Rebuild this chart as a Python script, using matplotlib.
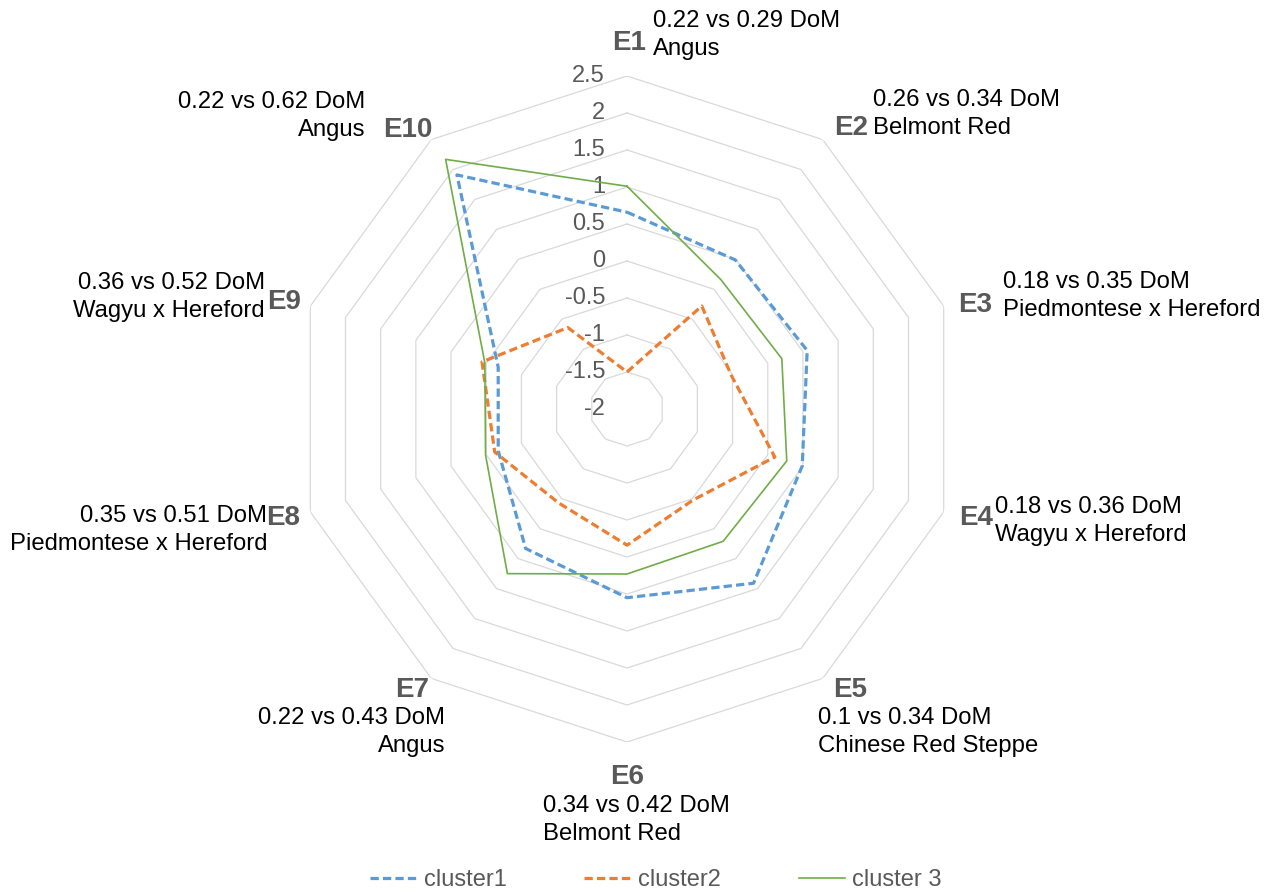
import numpy as np
import matplotlib
matplotlib.use("Agg")
import matplotlib.pyplot as plt
from matplotlib.transforms import offset_copy

plt.rcParams['font.family'] = ['Liberation Sans', 'DejaVu Sans']

# ---- data ----
categories = ["E1", "E2", "E3", "E4", "E5", "E6", "E7", "E8", "E9", "E10"]
dom_text = ["0.22 vs 0.29 DoM", "0.26 vs 0.34 DoM", "0.18 vs 0.35 DoM",
            "0.18 vs 0.36 DoM", "0.1 vs 0.34 DoM", "0.34 vs 0.42 DoM",
            "0.22 vs 0.43 DoM", "0.35 vs 0.51 DoM", "0.36 vs 0.52 DoM",
            "0.22 vs 0.62 DoM"]
breeds = ["Angus", "Belmont Red", "Piedmontese x Hereford", "Wagyu x Hereford",
          "Chinese Red Steppe", "Belmont Red", "Angus", "Piedmontese x Hereford",
          "Wagyu x Hereford", "Angus"]
cluster1 = [0.66, 0.49, 0.56, 0.49, 0.91, 0.55, 0.33, -0.17, -0.17, 1.91]
cluster2 = [-1.50, -0.28, -0.52, 0.10, -0.48, -0.16, -0.43, -0.12, 0.06, -0.64]
cluster3 = [1.01, 0.16, 0.20, 0.27, 0.21, 0.23, 0.75, 0.01, 0.02, 2.17]
series_names = ["cluster1", "cluster2", "cluster 3"]
r_ticks = [2.5, 2, 1.5, 1, 0.5, 0, -0.5, -1, -1.5, -2]
r_min, r_max = -2, 2.5

# ---- figure ----
W, H = 1270, 893
fig = plt.figure(figsize=(W / 100, H / 100), dpi=100)
cx, cy, R = 627, 409, 333
ax = fig.add_axes([(cx - R) / W, 1 - (cy + R) / H, 2 * R / W, 2 * R / H],
                  projection='polar')
ax.set_theta_zero_location('N')
ax.set_theta_direction(-1)
ax.set_ylim(r_min, r_max)
ax.grid(False)
ax.spines['polar'].set_visible(False)
ax.set_xticks([])
ax.set_yticks([])
ax.patch.set_alpha(0)

n = len(categories)
angles = np.linspace(0, 2 * np.pi, n, endpoint=False)
ang_c = np.append(angles, angles[0])

# decagon gridlines
for lv in r_ticks:
    if lv <= r_min:
        continue
    ax.plot(ang_c, [lv] * (n + 1), color='#D9D9D9', lw=0.9, zorder=1)

# tick labels along E1 axis
tl_tr = offset_copy(ax.transData, fig=fig, x=-22, y=0, units='dots')
for lv in r_ticks:
    ax.text(0, lv, f"{lv:g}", transform=tl_tr, ha='right', va='center',
            fontsize=17, color='#595959', zorder=2)

# series
def closed(v):
    return list(v) + [v[0]]

l1, = ax.plot(ang_c, closed(cluster1), color='#5B9BD5', lw=2.3,
              dashes=(2.6, 1.3), zorder=3, label=series_names[0])
l2, = ax.plot(ang_c, closed(cluster2), color='#ED7D31', lw=2.3,
              dashes=(2.6, 1.3), zorder=3, label=series_names[1])
l3, = ax.plot(ang_c, closed(cluster3), color='#70AD47', lw=1.2,
              zorder=4, label=series_names[2])

# ---- category labels (pixel layout) ----
e_pos = [(629, 43), (851, 128), (975, 305), (976, 518), (850, 690),
         (627, 777), (412, 690), (283, 518), (284, 302), (408, 130)]
a_pos = [(653, 35, 'left'), (873, 114, 'left'), (1003, 296, 'left'),
         (995, 521, 'left'), (818, 732, 'left'), (543, 820, 'left'),
         (445, 732, 'right'), (267, 530, 'right'), (265, 297, 'right'),
         (365, 116, 'right')]

for i in range(n):
    ex, ey = e_pos[i]
    fig.text(ex / W, 1 - ey / H, categories[i], ha='center', va='center',
             fontsize=20, fontweight='bold', color='#595959')
    axp, ayp, al = a_pos[i]
    fig.text(axp / W, 1 - ayp / H, dom_text[i] + "\n" + breeds[i], ha=al,
             va='center', multialignment=al, fontsize=17.2, color='black',
             linespacing=1.33)

# ---- legend ----
leg = fig.legend(handles=[l1, l2, l3], loc='center',
                 bbox_to_anchor=(656 / W, 1 - 880 / H), ncol=3, frameon=False,
                 fontsize=17, handlelength=1.97, handletextpad=0.3,
                 columnspacing=3.3)
for t in leg.get_texts():
    t.set_color('#595959')

fig.savefig("out.png", dpi=100)
